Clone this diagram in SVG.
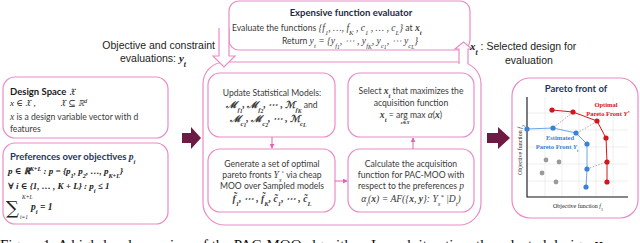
<svg xmlns="http://www.w3.org/2000/svg" width="640" height="243" viewBox="0 0 640 243">
<defs>
<style>
.box{fill:#fff;stroke:#ea8cc6;stroke-width:1.2}
.t{font-family:Lato,"Open Sans",sans-serif;font-size:8.6px;fill:#3a3a3a}
.h{font-family:Lato,"Open Sans",sans-serif;font-weight:bold;font-size:9.5px}
.m{font-family:"Liberation Serif","DejaVu Serif",serif;font-style:italic;font-weight:bold}
.mi{font-family:"Liberation Serif","DejaVu Serif",serif;font-style:italic}
.big9{font-size:9.6px}
.s{font-size:70%;baseline-shift:sub}
.s2{font-size:85%;baseline-shift:-1px}
.p{font-size:70%;baseline-shift:super}
.a{font-family:"Liberation Sans",Arial,sans-serif;font-size:10.5px;fill:#222}
.conn{stroke:#e066b0;stroke-width:1;fill:none}
.big{fill:#6d1a44}
.hollow{fill:#fff;stroke:#ea8cc6;stroke-width:1.2}
.grid{stroke:#e4e4e4;stroke-width:0.6}
.red{fill:#d3161b}
.blue{fill:#3b82d6}
.gray{fill:#9a9a9a}
.lab{font-family:"Liberation Serif",serif;font-size:6px;fill:#222}
</style>
<marker id="ah" viewBox="0 0 6 6" refX="5" refY="3" markerWidth="5" markerHeight="5" orient="auto"><path d="M0,0 L6,3 L0,6 z" fill="#e066b0"/></marker>
</defs>
<rect width="640" height="243" fill="#fff"/>

<g id="evaluator">
<rect class="box" x="229" y="1" width="241" height="49" rx="10"/>
<text class="h" x="351" y="16" text-anchor="middle" fill="#1e2a44">Expensive function evaluator</text>
<text class="t" x="232" y="31">Evaluate the functions <tspan class="mi big9">{f<tspan class="s">1</tspan>, …, f<tspan class="s">K</tspan> , c<tspan class="s">1</tspan> , … , c<tspan class="s">L</tspan>}</tspan> at <tspan class="m big9">x<tspan class="s">t</tspan></tspan></text>
<text class="t" x="282" y="44">Return <tspan class="mi big9">y<tspan class="s">t</tspan> = {y<tspan class="s">f<tspan class="s2">1</tspan></tspan>, ⋯ , y<tspan class="s">f<tspan class="s2">K</tspan></tspan>, y<tspan class="s">c<tspan class="s2">1</tspan></tspan>, ⋯ y<tspan class="s">c<tspan class="s2">L</tspan></tspan>}</tspan></text>
</g>

<g id="loop">
<rect class="box" x="203" y="62" width="278" height="163" rx="22"/>
</g>

<g id="update">
<rect class="box" x="208" y="73" width="127" height="64" rx="12"/>
<text class="t" x="272" y="96" text-anchor="middle">Update Statistical Models:</text>
<text class="t" x="272" y="108" text-anchor="middle"><tspan class="m big9">ℳ<tspan class="s">f<tspan class="s2">1</tspan></tspan>, ℳ<tspan class="s">f<tspan class="s2">2</tspan></tspan>, ⋯ , ℳ<tspan class="s">f<tspan class="s2">K</tspan></tspan></tspan> and</text>
<text class="t" x="268" y="122" text-anchor="middle"><tspan class="m big9">ℳ<tspan class="s">c<tspan class="s2">1</tspan></tspan>, ℳ<tspan class="s">c<tspan class="s2">2</tspan></tspan>, ⋯ , ℳ<tspan class="s">c<tspan class="s2">L</tspan></tspan></tspan></text>
</g>

<g id="select">
<rect class="box" x="348" y="73" width="126" height="64" rx="12"/>
<text class="t" x="411" y="94" text-anchor="middle">Select <tspan class="m big9">x<tspan class="s">t</tspan></tspan> that maximizes the</text>
<text class="t" x="411" y="106" text-anchor="middle">acquisition function</text>
<text class="t" x="411" y="118" text-anchor="middle"><tspan class="m big9">x<tspan class="s">t</tspan></tspan> = arg max <tspan class="mi big9">α</tspan>(<tspan class="m big9">x</tspan>)</text>
<text class="mi" x="405" y="124" font-size="5" text-anchor="middle">x∈X</text>
</g>

<g id="generate">
<rect class="box" x="208" y="149" width="127" height="63" rx="12"/>
<text class="t" x="272" y="167" text-anchor="middle">Generate a set of optimal</text>
<text class="t" x="272" y="178" text-anchor="middle">pareto fronts <tspan class="mi big9">Y<tspan class="s">s</tspan></tspan><tspan class="p">*</tspan> via cheap</text>
<text class="t" x="272" y="189" text-anchor="middle">MOO over Sampled models</text>
<text class="t" x="272" y="202" text-anchor="middle"><tspan class="m big9">f̃<tspan class="s">1</tspan>, ⋯ , f̃<tspan class="s">K</tspan>, c̃<tspan class="s">1</tspan>, ⋯ , c̃<tspan class="s">L</tspan></tspan></text>
</g>

<g id="calculate">
<rect class="box" x="348" y="149" width="126" height="63" rx="12"/>
<text class="t" x="411" y="167" text-anchor="middle">Calculate the acquisition</text>
<text class="t" x="411" y="178" text-anchor="middle">function for PAC-MOO with</text>
<text class="t" x="411" y="189" text-anchor="middle">respect to the preferences  <tspan class="mi big9">p</tspan></text>
<text class="t" x="411" y="202" text-anchor="middle"><tspan class="mi big9">α<tspan class="s">t</tspan>(<tspan class="m">x</tspan>) = AF({<tspan class="m">x</tspan>, <tspan class="m">y</tspan>}: Y<tspan class="s">s</tspan><tspan class="p">*</tspan> |D<tspan class="s">t</tspan>)</tspan></text>
</g>

<g id="design-space">
<rect class="box" x="3" y="77" width="165" height="61" rx="12"/>
<text class="h" x="10" y="95" fill="#1a1a1a">Design Space <tspan class="mi" font-weight="normal">𝔛</tspan></text>
<text class="mi" x="10" y="106" font-size="9" fill="#222">x ∈ 𝔛 ,</text>
<text class="mi" x="60" y="106" font-size="9" fill="#222">𝔛 ⊆ ℝ<tspan class="p">d</tspan></text>
<text class="t" x="10" y="120"><tspan class="mi big9">x</tspan> is a design variable vector with d</text>
<text class="t" x="10" y="132">features</text>
</g>

<g id="preferences">
<rect class="box" x="3" y="143" width="165" height="81" rx="12"/>
<text class="h" x="10" y="160" font-size="10" fill="#1f3560">Preferences over objectives <tspan class="m">p<tspan class="s">i</tspan></tspan></text>
<text class="m" x="8" y="174" font-size="9" fill="#222">p ∈ ℝ<tspan class="p">K+L</tspan> : p = {p<tspan class="s">1</tspan>, p<tspan class="s">2</tspan>, …, p<tspan class="s">K+L</tspan>}</text>
<text class="m" x="8" y="189" font-size="9" fill="#222">∀ i  ∈ {1, … , K + L} : p<tspan class="s">i</tspan> ≤ 1</text>
<text x="6" y="214" font-family="'DejaVu Serif',serif" font-size="18" fill="#222">∑</text>
<text class="mi" x="22" y="199" font-size="5.5" fill="#222">K+L</text>
<text class="mi" x="20" y="219" font-size="5.5" fill="#222">i=1</text>
<text class="m" x="31" y="210" font-size="9.5" fill="#222">p<tspan class="s">i</tspan> = 1</text>
</g>

<g id="plot">
<rect class="box" x="512" y="78" width="126" height="140" rx="18"/>
<text class="h" x="576" y="92" text-anchor="middle" font-size="8.5" fill="#1f3560">Pareto front of</text>
<g class="grid">
<line x1="545" y1="97" x2="545" y2="197"/><line x1="562" y1="97" x2="562" y2="197"/><line x1="579" y1="97" x2="579" y2="197"/><line x1="596" y1="97" x2="596" y2="197"/><line x1="613" y1="97" x2="613" y2="197"/>
<line x1="527" y1="113" x2="628" y2="113"/><line x1="527" y1="130" x2="628" y2="130"/><line x1="527" y1="147" x2="628" y2="147"/><line x1="527" y1="164" x2="628" y2="164"/><line x1="527" y1="181" x2="628" y2="181"/>
</g>
<path d="M527,97 V197 H628" fill="none" stroke="#111" stroke-width="1.1"/>
<g stroke="#8a8a8a" stroke-width="0.7" stroke-dasharray="1.5,1.5" fill="none">
<line x1="553" y1="128" x2="572" y2="113"/>
<line x1="577" y1="133" x2="596" y2="122"/>
<line x1="587" y1="169" x2="606" y2="162"/>
</g>
<polyline points="552,110 573,112 597,121 606,138 607,162 607,182" fill="none" stroke="#d3161b" stroke-width="1"/>
<polyline points="527,129 553,128 576,133 587,144 587,169 586,187" fill="none" stroke="#6aa6e6" stroke-width="1"/>
<g class="red"><circle cx="552" cy="110" r="2.6"/><circle cx="573" cy="112" r="2.6"/><circle cx="597" cy="121" r="2.6"/><circle cx="606" cy="138" r="2.6"/><circle cx="607" cy="162" r="2.6"/><circle cx="607" cy="182" r="2.6"/></g>
<g class="blue"><circle cx="527" cy="129" r="2.6"/><circle cx="553" cy="128" r="2.6"/><circle cx="576" cy="133" r="2.6"/><circle cx="587" cy="144" r="2.6"/><circle cx="587" cy="169" r="2.6"/><circle cx="586" cy="187" r="2.6"/></g>
<g class="gray"><circle cx="546" cy="160" r="2.4"/><circle cx="559" cy="162" r="2.4"/><circle cx="542" cy="173" r="2.4"/><circle cx="556" cy="182" r="2.4"/></g>
<text x="606" y="107" text-anchor="middle" font-family="'Liberation Serif',serif" font-weight="bold" font-size="6.5" fill="#d3161b">Optimal</text>
<text x="608" y="116" text-anchor="middle" font-family="'Liberation Serif',serif" font-weight="bold" font-size="6.5" fill="#d3161b">Pareto Front <tspan font-style="italic">Y</tspan><tspan class="p">*</tspan></text>
<text x="560" y="140" text-anchor="middle" font-family="'Liberation Serif',serif" font-weight="bold" font-size="6.5" fill="#3b82d6">Estimated</text>
<text x="557" y="149" text-anchor="middle" font-family="'Liberation Serif',serif" font-weight="bold" font-size="6.5" fill="#3b82d6">Pareto Front <tspan font-style="italic">Y<tspan class="s">t</tspan></tspan></text>
<text class="lab" transform="translate(522,150) rotate(-90)" text-anchor="middle" font-size="5">Objective function <tspan font-style="italic">f</tspan><tspan class="s">2</tspan></text>
<text class="lab" x="578" y="208" text-anchor="middle">Objective function <tspan font-style="italic">f</tspan><tspan class="s">1</tspan></text>
</g>

<g id="connectors">
<line class="conn" x1="272" y1="137" x2="272" y2="148" marker-end="url(#ah)"/>
<line class="conn" x1="335" y1="181" x2="347" y2="181" marker-end="url(#ah)"/>
<line class="conn" x1="413" y1="149" x2="413" y2="138" marker-end="url(#ah)"/>
<path class="hollow" d="M219,28 V56 H213 L224,67 L235,56 H229 V28"/>
<path class="hollow" d="M459,64 V49 H455 L463.5,42 L472,49 H468 V64"/>
<polygon class="big" points="182,133 191,133 191,127 201,138 191,149 191,143 182,143"/>
<polygon class="big" points="487,133 498,133 498,127 510,138 498,149 498,143 487,143"/>
</g>

<text class="a" x="215" y="49" text-anchor="end">Objective and constraint</text>
<text class="a" x="120" y="62">evaluations: <tspan class="m" font-size="11">y<tspan class="s">t</tspan></tspan></text>
<text class="a" x="470" y="50"><tspan class="m" font-size="11">x<tspan class="s">t</tspan></tspan> : Selected design for</text>
<text class="a" x="505" y="64">evaluation</text>

<text x="0" y="250" font-family="'Liberation Serif',serif" font-size="15" fill="#111">Figure 1: A high-level overview of the PAC-MOO algorithm. In each iteration, the selected design 𝒙</text>
</svg>
